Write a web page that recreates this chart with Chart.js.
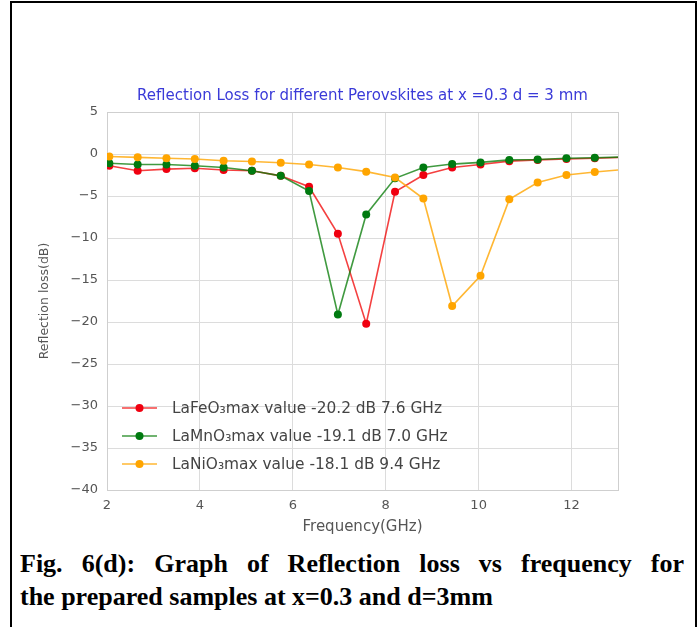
<!DOCTYPE html>
<html>
<head>
<meta charset="utf-8">
<script src="https://cdn.jsdelivr.net/npm/chart.js@4.4.1/dist/chart.umd.min.js"></script>
<style>
html,body{margin:0;padding:0;background:#fff;width:697px;height:627px;overflow:hidden;}
#frame{position:absolute;left:10px;top:1px;width:683px;height:660px;border:2px solid #000;border-bottom:none;}
#wrap{position:absolute;left:0;top:0;width:697px;height:540px;}
#cap{position:absolute;left:20px;top:547px;width:664px;font-family:"Liberation Serif","Times New Roman",serif;font-weight:bold;font-size:26px;line-height:33px;color:#000;}
#cap .l1{text-align:justify;text-align-last:justify;}
#cap .l2{text-align:left;}
</style>
</head>
<body>
<div id="frame"></div>
<div id="wrap"><canvas id="c" width="697" height="540"></canvas></div>
<div id="cap"><div class="l1">Fig. 6(d): Graph of Reflection loss vs frequency for</div><div class="l2">the prepared samples at x=0.3 and d=3mm</div></div>
<script>
// ---- data ----
const freqGHz = [2.05, 2.66, 3.28, 3.89, 4.51, 5.12, 5.74, 6.35, 6.97, 7.58, 8.20, 8.81, 9.43, 10.04, 10.66, 11.27, 11.89, 12.50, 13.12];
const laFeO3 = [-1.4, -2.0, -1.8, -1.7, -1.9, -2.0, -2.6, -3.9, -9.5, -20.2, -4.5, -2.5, -1.6, -1.25, -0.85, -0.7, -0.6, -0.5, -0.4];
const laMnO3 = [-1.1, -1.25, -1.25, -1.4, -1.6, -2.0, -2.6, -4.4, -19.1, -7.2, -2.9, -1.6, -1.2, -1.0, -0.7, -0.65, -0.5, -0.45, -0.35];
const laNiO3 = [-0.3, -0.4, -0.5, -0.6, -0.8, -0.9, -1.05, -1.25, -1.6, -2.1, -2.8, -5.3, -18.1, -14.5, -5.4, -3.4, -2.5, -2.15, -1.85];
const seriesNames = ['LaFeO\u2083max value -20.2 dB 7.6 GHz', 'LaMnO\u2083max value -19.1 dB 7.0 GHz', 'LaNiO\u2083max value -18.1 dB 9.4 GHz'];
const xTicks = [2, 4, 6, 8, 10, 12];
const yTicks = [5, 0, -5, -10, -15, -20, -25, -30, -35, -40];
const chartTitle = 'Reflection Loss for different Perovskites at x =0.3 d = 3 mm';
const xTitle = 'Frequency(GHz)';
const yTitle = 'Reflection loss(dB)';

const FONT = '"DejaVu Sans", sans-serif';
const seriesValues = [laFeO3, laMnO3, laNiO3];
const lineColors = ['rgba(240,0,0,0.75)', 'rgba(0,120,0,0.75)', 'rgba(255,165,0,0.8)'];
const pointColors = ['#f00010', '#007a10', '#ffa500'];

const datasets = seriesValues.map((vals, i) => ({
  label: seriesNames[i],
  data: freqGHz.map((f, j) => ({x: f, y: vals[j]})),
  borderColor: lineColors[i],
  backgroundColor: pointColors[i],
  pointBackgroundColor: pointColors[i],
  pointBorderColor: pointColors[i],
  pointRadius: 4,
  pointBorderWidth: 0,
  borderWidth: 1.6,
  tension: 0,
  order: 3 - i
}));

const frameBorder = {
  id: 'frameBorder',
  beforeDatasetsDraw(chart) {
    const a = chart.chartArea, ctx = chart.ctx;
    ctx.save();
    ctx.strokeStyle = '#cfcfcf';
    ctx.lineWidth = 1;
    ctx.strokeRect(Math.round(a.left) + 0.5, Math.round(a.top) + 0.5, Math.round(a.right - a.left), Math.round(a.bottom - a.top));
    ctx.restore();
  }
};

const innerLegend = {
  id: 'innerLegend',
  afterDraw(chart) {
    const a = chart.chartArea, ctx = chart.ctx;
    ctx.save();
    ctx.font = '15.4px ' + FONT;
    ctx.textBaseline = 'middle';
    chart.data.datasets.forEach((ds, i) => {
      const y = a.bottom - 82 + i * 28;
      const x0 = a.left + 15;
      ctx.strokeStyle = ds.borderColor;
      ctx.lineWidth = 1.6;
      ctx.beginPath(); ctx.moveTo(x0, y); ctx.lineTo(x0 + 35, y); ctx.stroke();
      ctx.fillStyle = ds.pointBackgroundColor;
      ctx.beginPath(); ctx.arc(x0 + 17.5, y, 4, 0, Math.PI * 2); ctx.fill();
      ctx.fillStyle = '#444';
      ctx.fillText(ds.label, a.left + 65, y + 1);
    });
    ctx.restore();
  }
};

new Chart(document.getElementById('c'), {
  type: 'line',
  data: {datasets},
  options: {
    responsive: false,
    animation: false,
    devicePixelRatio: 1,
    layout: {padding: {left: 0, right: 79, top: 0, bottom: 0}},
    plugins: {
      legend: {display: false},
      tooltip: {enabled: false},
      title: {
        display: true, text: chartTitle, color: '#3a3ad8', fullSize: false,
        font: {family: FONT, size: 15, weight: 'normal'},
        padding: {top: 87, bottom: 7}
      }
    },
    scales: {
      x: {
        type: 'linear', min: 2, max: 13,
        afterBuildTicks: s => { s.ticks = xTicks.map(v => ({value: v})); },
        afterFit: s => { s.height = 50; },
        grid: {color: '#dcdcdc', drawTicks: false, lineWidth: 1},
        border: {display: false},
        ticks: {color: '#555', font: {family: FONT, size: 13}, padding: 8, maxRotation: 0,
          callback: v => String(v).replace('-', '\u2212')},
        title: {display: true, text: xTitle, color: '#555', font: {family: FONT, size: 15}, padding: {top: 4, bottom: 4}}
      },
      y: {
        type: 'linear', min: -40, max: 5,
        afterBuildTicks: s => { s.ticks = yTicks.map(v => ({value: v})); },
        afterFit: s => { s.width = 107; },
        grid: {color: '#dcdcdc', drawTicks: false, lineWidth: 1},
        border: {display: false},
        ticks: {color: '#555', font: {family: FONT, size: 13}, padding: 9,
          callback: v => String(v).replace('-', '\u2212')},
        title: {display: true, text: yTitle, color: '#555', font: {family: FONT, size: 12.5}, padding: {top: 37, bottom: 0}}
      }
    }
  },
  plugins: [frameBorder, innerLegend]
});
</script>
</body>
</html>
